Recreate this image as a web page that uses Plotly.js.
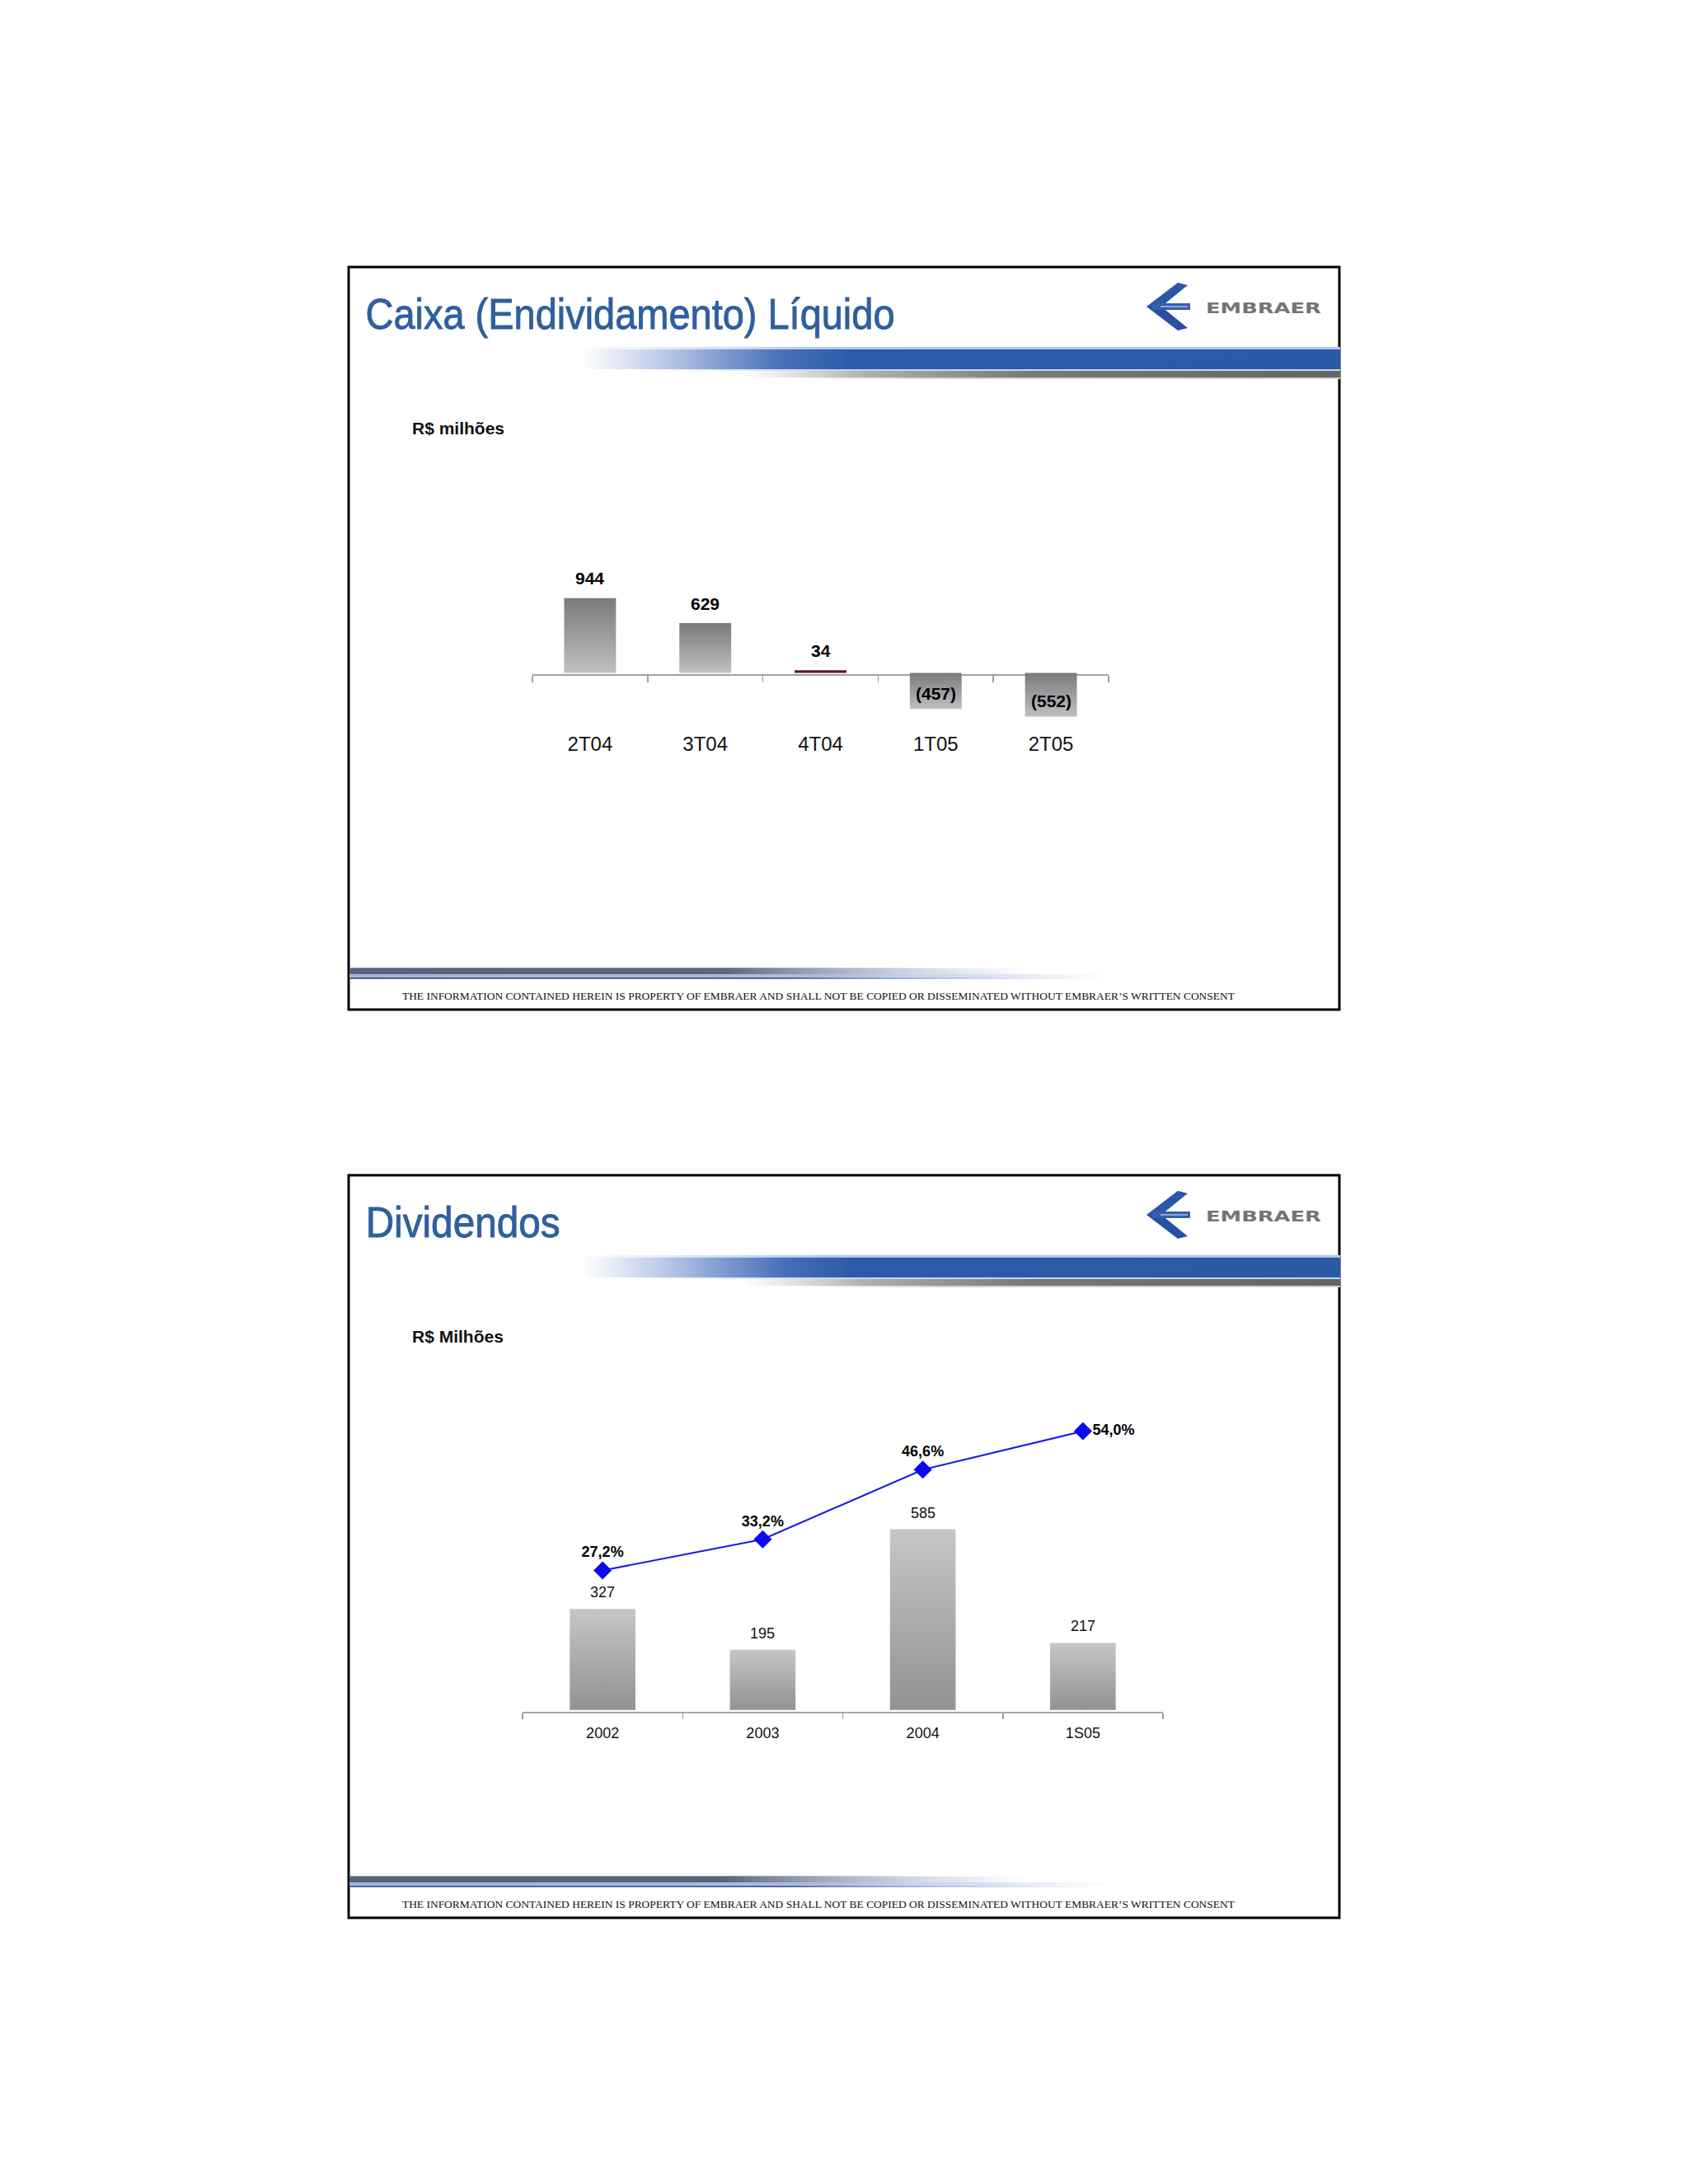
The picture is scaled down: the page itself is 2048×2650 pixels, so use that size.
<!DOCTYPE html>
<html>
<head>
<meta charset="utf-8">
<script src="https://cdn.plot.ly/plotly-3.0.1.min.js"></script>
<style>
  html, body { margin: 0; padding: 0; background: #ffffff; }
  #plot { width: 2048px; height: 2650px; }
</style>
</head>
<body>
<div id="plot"></div>
<script>
// ---------- DATA ----------
const CAT1 = ['2T04', '3T04', '4T04', '1T05', '2T05'];
const CAIXA = [944, 629, 34, -457, -552];

const CAT2 = ['2002', '2003', '2004', '1S05'];
const DIVIDENDOS = [327, 195, 585, 217];
const PAYOUT = [27.2, 33.2, 46.6, 54.0];

const TITLE1 = 'Caixa (Endividamento) Líquido';
const TITLE2 = 'Dividendos';
const UNIT1 = 'R$ milhões';
const UNIT2 = 'R$ Milhões';
const FOOTER = 'THE INFORMATION CONTAINED HEREIN IS PROPERTY OF EMBRAER AND SHALL NOT BE COPIED OR DISSEMINATED WITHOUT EMBRAER\u2019S WRITTEN CONSENT';
const LOGO_TEXT = 'EMBRAER';

// ---------- helpers (page pixel -> paper) ----------
const W = 2048, H = 2650;
const PX = x => x / W;
const PY = y => 1 - y / H;
const SANS = 'Liberation Sans, Arial, Helvetica, sans-serif';
const SERIF = 'Liberation Serif, Times New Roman, serif';
const SLIDE_DY = 1102;
const TITLE_LEFT = 443;
const TITLE_W = { [TITLE1]: 642, [TITLE2]: 236 };

const fmtCaixa = v => v < 0 ? '(' + (-v) + ')' : String(v);
const fmtPct = v => v.toFixed(1).replace('.', ',') + '%';

// ---------- canvas decorations ----------
function headerBand() {
  const c = document.createElement('canvas');
  const x0 = 696, w = 930, h = 44;
  c.width = w; c.height = h;
  const g = c.getContext('2d');
  function hgrad(stops) {
    const gr = g.createLinearGradient(0, 0, w, 0);
    stops.forEach(s => gr.addColorStop(Math.min(1, Math.max(0, (s[0] - x0) / w)), s[1]));
    return gr;
  }
  g.fillStyle = hgrad([[700, 'rgba(175,198,236,0)'], [1000, 'rgba(175,198,236,1)'], [1626, 'rgba(175,198,236,1)']]);
  g.fillRect(0, 3, w, 3);
  g.fillStyle = hgrad([[705, 'rgba(205,214,236,0)'], [770, 'rgba(200,212,238,0.8)'], [860, 'rgb(140,165,214)'],
                       [950, 'rgb(72,112,186)'], [1030, 'rgb(43,91,168)'], [1626, 'rgb(42,90,166)']]);
  g.fillRect(0, 6, w, 24);
  g.fillStyle = hgrad([[760, 'rgba(200,214,238,0)'], [1000, 'rgba(200,214,238,1)'], [1626, 'rgba(200,214,238,1)']]);
  g.fillRect(0, 30, w, 2);
  g.fillStyle = hgrad([[900, 'rgba(190,190,190,0)'], [1050, 'rgba(175,175,175,1)'], [1250, 'rgb(120,120,120)'], [1626, 'rgb(100,100,100)']]);
  g.fillRect(0, 32, w, 8);
  g.fillStyle = hgrad([[950, 'rgba(210,210,210,0)'], [1150, 'rgba(210,210,210,1)'], [1626, 'rgba(210,210,210,1)']]);
  g.fillRect(0, 40, w, 2);
  return { src: c.toDataURL(), x: x0, y: 418, w: w, h: h };
}

function footerBand() {
  const c = document.createElement('canvas');
  const x0 = 424, w = 940, h = 19;
  c.width = w; c.height = h;
  const g = c.getContext('2d');
  function hgrad(stops) {
    const gr = g.createLinearGradient(0, 0, w, 0);
    stops.forEach(s => gr.addColorStop(Math.min(1, Math.max(0, (s[0] - x0) / w)), s[1]));
    return gr;
  }
  g.fillStyle = hgrad([[424, 'rgba(150,156,170,1)'], [900, 'rgba(150,156,170,1)'], [1150, 'rgba(150,156,170,0)']]);
  g.fillRect(0, 2, w, 1);
  g.fillStyle = hgrad([[424, 'rgb(88,98,118)'], [880, 'rgb(92,102,122)'], [1000, 'rgba(120,135,165,0.7)'], [1250, 'rgba(160,175,205,0)']]);
  g.fillRect(0, 3, w, 7);
  g.fillStyle = hgrad([[424, 'rgb(160,180,220)'], [1000, 'rgb(170,188,224)'], [1200, 'rgba(200,214,240,0.7)'], [1360, 'rgba(220,230,248,0)']]);
  g.fillRect(0, 10, w, 4);
  g.fillStyle = hgrad([[424, 'rgb(80,100,150)'], [950, 'rgb(85,104,152)'], [1150, 'rgba(120,140,190,0.5)'], [1340, 'rgba(160,175,215,0)']]);
  g.fillRect(0, 14, w, 2);
  return { src: c.toDataURL(), x: x0, y: 1172, w: w, h: h };
}

function logoArrow() {
  const c = document.createElement('canvas');
  const x0 = 1385, y0 = 338, w = 66, h = 68;
  c.width = w; c.height = h;
  const g = c.getContext('2d');
  const P = (x, y) => [x - x0, y - y0];
  function poly(pts, col) {
    g.beginPath();
    pts.forEach((p, i) => { const q = P(p[0], p[1]); if (i) g.lineTo(q[0], q[1]); else g.moveTo(q[0], q[1]); });
    g.closePath(); g.fillStyle = col; g.fill();
  }
  poly([[1391, 372], [1429, 343], [1441, 346], [1409, 372]], 'rgb(44,86,166)');
  poly([[1391, 372], [1409, 372], [1441, 398], [1429, 401]], 'rgb(40,80,160)');
  poly([[1398, 368], [1444, 368], [1444, 376], [1398, 376]], 'rgb(52,95,174)');
  poly([[1408, 371], [1441, 371], [1441, 373], [1408, 373]], 'rgb(140,168,212)');
  return { src: c.toDataURL(), x: x0, y: y0, w: w, h: h };
}

const HB = headerBand(), FB = footerBand(), LG = logoArrow();
const images = [];
[0, SLIDE_DY].forEach(dy => {
  [HB, FB, LG].forEach(im => {
    images.push({
      source: im.src, xref: 'paper', yref: 'paper',
      x: PX(im.x), y: PY(im.y + dy), sizex: im.w / W, sizey: im.h / H,
      xanchor: 'left', yanchor: 'top', sizing: 'stretch', layer: 'above'
    });
  });
});

// ---------- traces ----------
const BAR1_COLORS = ['#8a8a8c', '#8a8a8c', '#5a1c24', '#8a8a8c', '#8a8a8c'];

const traces = [
  {
    type: 'bar', x: CAT1, y: CAIXA, xaxis: 'x', yaxis: 'y',
    width: 0.45,
    marker: { color: BAR1_COLORS, line: { width: 0 } },
    hoverinfo: 'none', showlegend: false
  },
  {
    type: 'bar', x: CAT2, y: DIVIDENDOS, xaxis: 'x2', yaxis: 'y2',
    width: 0.41,
    marker: { color: '#adadaf', line: { width: 0 } },
    hoverinfo: 'none', showlegend: false
  },
  {
    type: 'scatter', mode: 'lines+markers+text', x: CAT2, y: PAYOUT, xaxis: 'x2', yaxis: 'y3',
    line: { color: '#1a1ae6', width: 2 },
    marker: { symbol: 'diamond', size: 17, color: '#0a0af0' },
    text: PAYOUT.map(fmtPct),
    textposition: PAYOUT.map((v, i) => i === PAYOUT.length - 1 ? 'middle right' : 'top center'),
    textfont: { family: SANS, size: 18, color: '#000000', weight: 'bold' },
    cliponaxis: false, hoverinfo: 'none', showlegend: false
  }
];

// ---------- annotations (value labels positioned through the axes) ----------
const ann = [];
CAIXA.forEach((v, i) => {
  ann.push({
    xref: 'x', yref: 'y', x: i, y: v, text: fmtCaixa(v), showarrow: false,
    yanchor: 'middle', yshift: v >= 0 ? 24 : 19,
    font: { family: SANS, size: 21, color: '#000000', weight: 'bold' }
  });
});
DIVIDENDOS.forEach((v, i) => {
  ann.push({
    xref: 'x2', yref: 'y2', x: i, y: v, text: String(v), showarrow: false,
    yanchor: 'middle', yshift: 20,
    font: { family: SANS, size: 18, color: '#111111' }
  });
});
[[TITLE1, UNIT1, 0], [TITLE2, UNIT2, SLIDE_DY]].forEach(t => {
  const dy = t[2];
  ann.push({ xref: 'paper', yref: 'paper', x: PX(TITLE_LEFT + TITLE_W[t[0]] / 2), y: PY(381 + dy), xanchor: 'center', yanchor: 'middle',
    text: t[0], showarrow: false, font: { family: SANS, size: 52, color: '#2f5f9e' } });
  ann.push({ xref: 'paper', yref: 'paper', x: PX(498), y: PY(519 + dy), xanchor: 'left', yanchor: 'middle',
    text: t[1], showarrow: false, font: { family: SANS, size: 21, color: '#111111', weight: 'bold' } });
  ann.push({ xref: 'paper', yref: 'paper', x: PX(1533), y: PY(373 + dy), xanchor: 'center', yanchor: 'middle',
    text: LOGO_TEXT, showarrow: false, font: { family: 'DejaVu Sans, sans-serif', size: 18, color: '#747474', weight: 'bold' } });
  ann.push({ xref: 'paper', yref: 'paper', x: PX(993), y: PY(1208 + dy), xanchor: 'center', yanchor: 'middle',
    text: FOOTER, showarrow: false, font: { family: SERIF, size: 13.5, color: '#111111' } });
});

// ---------- frames ----------
const shapes = [0, SLIDE_DY].map(dy => ({
  type: 'rect', xref: 'paper', yref: 'paper',
  x0: PX(423), x1: PX(1625), y0: PY(1225 + dy), y1: PY(324 + dy),
  line: { color: '#000000', width: 3 }, fillcolor: 'rgba(0,0,0,0)', layer: 'below'
}));

// ---------- layout ----------
const layout = {
  width: W, height: H,
  margin: { l: 0, r: 0, t: 0, b: 0, pad: 0 },
  paper_bgcolor: '#ffffff', plot_bgcolor: 'rgba(0,0,0,0)',
  showlegend: false,
  font: { family: SANS },
  xaxis: {
    type: 'category', domain: [PX(646), PX(1345)], range: [-0.5, 4.5],
    anchor: 'free', position: PY(818.5),
    showline: true, linecolor: '#a0a0a0', linewidth: 2, layer: 'below traces',
    ticks: 'outside', tickson: 'boundaries', ticklen: 8, tickcolor: '#a0a0a0', tickwidth: 1.5,
    showgrid: false, zeroline: false,
    tickfont: { family: SANS, size: 24, color: '#111111' }, ticklabelstandoff: 63,
    fixedrange: true
  },
  yaxis: {
    domain: [PY(900), PY(600)], range: [-870, 2255], visible: false, fixedrange: true, anchor: 'x'
  },
  xaxis2: {
    type: 'category', domain: [PX(634), PX(1411)], range: [-0.5, 3.5], anchor: 'y2',
    showline: true, linecolor: '#a8a8a8', linewidth: 1.5,
    ticks: 'outside', tickson: 'boundaries', ticklen: 7, tickcolor: '#a0a0a0', tickwidth: 1.5,
    showgrid: false, zeroline: false,
    tickfont: { family: SANS, size: 18, color: '#111111' }, ticklabelstandoff: 9,
    fixedrange: true
  },
  yaxis2: {
    domain: [PY(2077), PY(1700)], range: [-6, 1000], visible: false, fixedrange: true, anchor: 'x2'
  },
  yaxis3: {
    overlaying: 'y2', anchor: 'x2', range: [0, 59.8], visible: false, fixedrange: true
  },
  annotations: ann,
  shapes: shapes,
  images: images
};

Plotly.newPlot('plot', traces, layout, { staticPlot: true, displayModeBar: false }).then(gd => {
  const svg = gd.querySelector('.main-svg');
  const NS = 'http://www.w3.org/2000/svg';
  let defs = svg.querySelector('defs');
  if (!defs) { defs = document.createElementNS(NS, 'defs'); svg.insertBefore(defs, svg.firstChild); }
  function addGrad(id, top, bottom) {
    const lg = document.createElementNS(NS, 'linearGradient');
    lg.setAttribute('id', id);
    lg.setAttribute('x1', '0'); lg.setAttribute('y1', '0'); lg.setAttribute('x2', '0'); lg.setAttribute('y2', '1');
    [[0, top], [1, bottom]].forEach(s => {
      const st = document.createElementNS(NS, 'stop');
      st.setAttribute('offset', s[0]); st.setAttribute('stop-color', s[1]);
      lg.appendChild(st);
    });
    defs.appendChild(lg);
  }
  addGrad('gradCaixa', '#7a7a7c', '#c0c0c2');
  addGrad('gradDiv', '#c6c6c8', '#929294');
  const p1 = gd.querySelectorAll('.subplot.xy .barlayer .point path');
  p1.forEach((p, i) => { if (CAIXA[i] !== 34) p.style.fill = 'url(#gradCaixa)'; });
  const p2 = gd.querySelectorAll('.subplot.x2y2 .barlayer .point path');
  p2.forEach(p => { p.style.fill = 'url(#gradDiv)'; });
  const fitWidth = { [LOGO_TEXT]: 140, [TITLE1]: TITLE_W[TITLE1], [TITLE2]: TITLE_W[TITLE2] };
  gd.querySelectorAll('.annotation-text').forEach(t => {
    const s = t.textContent;
    let w = fitWidth[s];
    if (s.indexOf('THE INFORMATION') === 0) w = 1010;
    if (w) { t.setAttribute('textLength', String(w)); t.setAttribute('lengthAdjust', 'spacingAndGlyphs'); }
    if (s === TITLE1 || s === TITLE2) { t.style.stroke = '#2f5f9e'; t.style.strokeWidth = '0.9px'; }
  });
});
</script>
</body>
</html>
